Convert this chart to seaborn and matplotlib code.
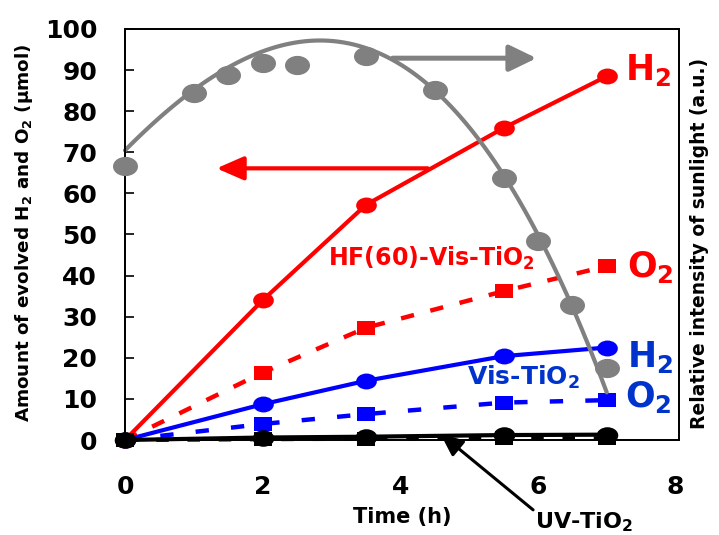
import numpy as np
import pandas as pd
import matplotlib
matplotlib.use("Agg")
import matplotlib.pyplot as plt
import seaborn as sns
from matplotlib.path import Path
from matplotlib.transforms import Affine2D

# ---------------- data ----------------
time = [0, 2, 3.5, 5.5, 7]
hf_h2 = [0, 34.0, 57.2, 75.9, 88.5]
hf_o2 = [0, 16.4, 27.3, 36.2, 42.3]
vis_h2 = [0, 8.7, 14.4, 20.4, 22.5]
vis_o2 = [0, 3.9, 6.3, 9.1, 9.7]
uv_h2 = [0, 0.6, 0.8, 1.2, 1.3]
uv_o2 = [0, 0.2, 0.3, 0.4, 0.4]

sun_time = [0, 1, 1.5, 2, 2.5, 3.5, 4.5, 5.5, 6, 6.5, 7]
sun_int = [66.6, 84.5, 88.8, 91.7, 91.3, 93.4, 85.1, 63.8, 48.4, 32.8, 17.6]

trend_time = [0, 0.5, 1, 1.5, 2, 2.5, 3, 3.5, 4, 4.5, 5, 5.5, 6, 6.5, 7]
trend_int = [70, 78.5, 86.6, 90.5, 94, 95.9, 96.4, 95.5, 92.7, 85.6, 76, 64.5, 48.5, 33, 11.7]

xticks = [0, 2, 4, 6, 8]
yticks = [0, 10, 20, 30, 40, 50, 60, 70, 80, 90, 100]

# ---------------- style ----------------
sns.set_style("ticks")
plt.rcParams["font.family"] = ["DejaVu Sans"]
plt.rcParams["font.weight"] = "bold"
plt.rcParams["mathtext.default"] = "bf"
for k in ["text.color", "axes.labelcolor", "xtick.color", "ytick.color", "xtick.labelcolor", "ytick.labelcolor"]:
    plt.rcParams[k] = "black"

RED = "#FF0000"
BLUE = "#0000FF"
BLUE_TXT = "#0033CC"
GRAY = "#808080"

ell = Affine2D().scale(1.3, 1.0).transform_path(Path.unit_circle())
rect = Affine2D().translate(-0.5, -0.5).scale(1.3, 1.0).transform_path(Path.unit_rectangle())

fig = plt.figure(figsize=(7.19, 5.35), dpi=100)
ax = fig.add_axes([125 / 719, 1 - 440 / 535, (679 - 125) / 719, (440 - 29) / 535])


def series(ax, y, color, marker, ms, ls, lw=3.0, z=2):
    sns.lineplot(x=time, y=y, ax=ax, color=color, marker=marker, markersize=ms,
                 markeredgecolor=color, markeredgewidth=0, linestyle=ls, linewidth=lw,
                 clip_on=False, zorder=z)


series(ax, hf_o2, RED, rect, 12.7, (0, (3, 3.8)), lw=3.2)
series(ax, hf_h2, RED, ell, 14.9, "-")
series(ax, vis_o2, BLUE, rect, 12.7, (0, (3, 5)), lw=3.2)
series(ax, vis_h2, BLUE, ell, 14.9, "-")
series(ax, uv_o2, "black", rect, 12.7, (0, (3, 4.5)), lw=3.0, z=3)
series(ax, uv_h2, "black", ell, 15.5, "-", z=3)

ax.set_xlim(0, 8.05)
ax.set_ylim(0, 100)
ax.set_xticks(xticks)
ax.set_yticks(yticks)
ax.tick_params(axis="y", direction="in", length=6.5, width=1.2, pad=20, labelsize=18,
               color="black", labelcolor="black")
ax.tick_params(axis="x", length=0, pad=25, labelsize=18, labelcolor="black")
for lab in ax.get_xticklabels() + ax.get_yticklabels():
    lab.set_fontweight("bold")
for s in ax.spines.values():
    s.set_linewidth(1.3)
    s.set_color("black")

ax.set_xlabel("Time (h)", fontsize=15, fontweight="bold", labelpad=6, color="black")
ax.set_ylabel("Amount of evolved H$_2$ and O$_2$ (µmol)", fontsize=13.2, fontweight="bold",
              color="black")
ax.yaxis.set_label_coords(-0.1625, 0.504)

# text labels
tk = dict(fontweight="bold", ha="left", va="baseline")
ax.text(7.27, 87.6, "H$_2$", color=RED, fontsize=25, **tk)
ax.text(7.29, 39.6, "O$_2$", color=RED, fontsize=25, **tk)
ax.text(7.29, 17.8, "H$_2$", color=BLUE_TXT, fontsize=25, **tk)
ax.text(7.27, 8.1, "O$_2$", color=BLUE_TXT, fontsize=25, **tk)
ax.text(2.95, 42.5, "HF(60)-Vis-TiO$_2$", color=RED, fontsize=17, **tk)
ax.text(4.97, 13.35, "Vis-TiO$_2$", color=BLUE_TXT, fontsize=18, **tk)
ax.text(5.96, -21.4, "UV-TiO$_2$", color="black", fontsize=16, clip_on=False, **tk)

# red arrow pointing to left axis
ax.annotate("", xy=(1.33, 66.1), xytext=(4.40, 66.1),
            arrowprops=dict(arrowstyle="-|>,head_length=16.5,head_width=7.2", mutation_scale=1,
                            lw=3.0, color=RED, shrinkA=0, shrinkB=0))

# ---------------- secondary axis: sunlight ----------------
ax2 = ax.twinx()
sns.regplot(x=trend_time, y=trend_int, ax=ax2, order=4, scatter=False, ci=None,
            line_kws=dict(color=GRAY, lw=3.0, clip_on=False))
sns.scatterplot(x=sun_time, y=sun_int, ax=ax2, color=GRAY, marker=ell, s=18 ** 2,
                linewidth=0, clip_on=False, zorder=3)
ax2.set_ylim(0, 100)
ax2.set_xlim(0, 8.05)
ax2.set_yticks([])
ax2.set_ylabel("Relative intensity of sunlight (a.u.)", fontsize=13.5, fontweight="bold",
               color="black")
ax2.yaxis.set_label_coords(1.0199, 0.479)
for s in ax2.spines.values():
    s.set_linewidth(1.3)
    s.set_color("black")

ax2.annotate("", xy=(5.98, 92.9), xytext=(3.89, 92.9),
             arrowprops=dict(arrowstyle="-|>,head_length=16.5,head_width=8", mutation_scale=1,
                             lw=3.6, color=GRAY, shrinkA=0, shrinkB=0))
ax2.annotate("", xy=(4.58, 1.6), xytext=(5.93, -17),
             arrowprops=dict(arrowstyle="-|>,head_length=14,head_width=6", mutation_scale=1,
                             lw=2.2, color="black", shrinkA=0, shrinkB=0),
             annotation_clip=False)

fig.savefig("out.png", dpi=100)
